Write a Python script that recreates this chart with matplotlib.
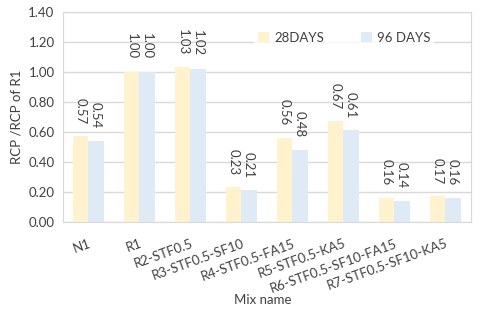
import matplotlib
matplotlib.use("Agg")
import matplotlib.pyplot as plt
import numpy as np

# values
mixes = ["N1", "R1", "R2-STF0.5", "R3-STF0.5-SF10", "R4-STF0.5-FA15",
         "R5-STF0.5-KA5", "R6-STF0.5-SF10-FA15", "R7-STF0.5-SF10-KA5"]
days28 = [0.57, 1.00, 1.03, 0.23, 0.56, 0.67, 0.16, 0.17]
days96 = [0.54, 1.00, 1.02, 0.21, 0.48, 0.61, 0.14, 0.16]
series_names = ["28DAYS", "96 DAYS"]
yticks = [0.0, 0.2, 0.4, 0.6, 0.8, 1.0, 1.2, 1.4]

YELLOW = "#FFF2CC"
BLUE = "#DEEBF7"
GRID = "#D9D9D9"
TEXT = "#404040"

plt.rcParams["font.family"] = ["Lato", "DejaVu Sans"]
plt.rcParams["font.size"] = 9

fig = plt.figure(figsize=(4.8, 3.09), dpi=100)
ax = fig.add_axes([0.131, 0.2816, 0.85, 0.68])

x = np.arange(len(mixes))
w = 0.3
b1 = ax.bar(x - w / 2, days28, w, color=YELLOW, label=series_names[0], zorder=2)
b2 = ax.bar(x + w / 2, days96, w, color=BLUE, label=series_names[1], zorder=2)

for bars, vals in ((b1, days28), (b2, days96)):
    for rect, v in zip(bars, vals):
        ax.annotate(f"{v:.2f}", (rect.get_x() + rect.get_width() / 2, v),
                    xytext=(0, 9), textcoords="offset points",
                    ha="center", va="bottom", rotation=-90,
                    color=TEXT, fontsize=9.5)

ax.set_xlim(-0.5, len(mixes) - 0.5)
ax.set_ylim(0, 1.4)
ax.set_yticks(yticks)
ax.set_yticklabels([f"{t:.2f}" for t in yticks])
ax.set_xticks(x)
ax.set_xticklabels(mixes, rotation=20, ha="right", rotation_mode="anchor")
ax.tick_params(length=0, colors=TEXT, labelsize=9.5)
ax.tick_params(axis="x", pad=11)
ax.tick_params(axis="y", pad=6)
ax.grid(axis="y", color=GRID, linewidth=1, zorder=0)
for s in ax.spines.values():
    s.set_color(GRID)

ax.set_ylabel("RCP /RCP of R1", color=TEXT, fontsize=9.5, labelpad=4)
ax.set_xlabel("Mix name", color=TEXT, fontsize=9.5, va="center")
ax.xaxis.set_label_coords(0.49, -0.371)

leg = ax.legend(loc="center", bbox_to_anchor=(0.69, 0.876), ncol=2,
                frameon=True, fancybox=False, edgecolor="none",
                handlelength=0.8, handleheight=0.8, columnspacing=2.8,
                handletextpad=0.4, borderpad=0.3, fontsize=9.5)
for t in leg.get_texts():
    t.set_color(TEXT)

fig.savefig("out.png", dpi=100)
